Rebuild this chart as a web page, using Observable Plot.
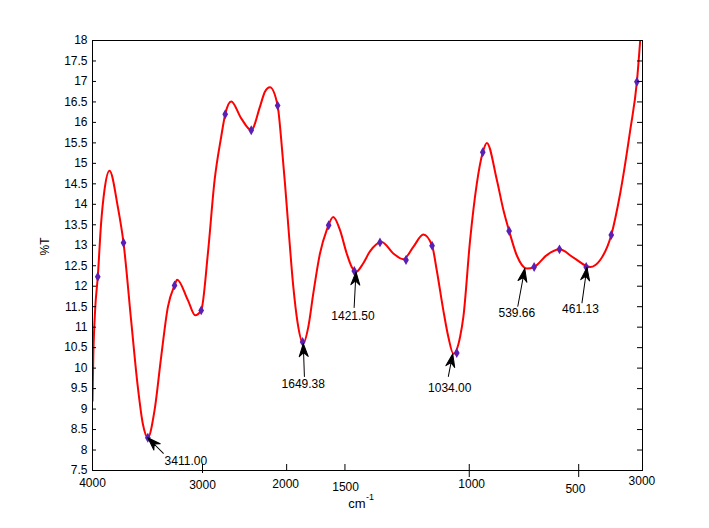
<!DOCTYPE html>
<html><head><meta charset="utf-8">
<script src="https://cdn.jsdelivr.net/npm/d3@7"></script>
<script src="https://cdn.jsdelivr.net/npm/@observablehq/plot@0.6"></script>
<style>body{margin:0;background:#fff;}</style>
</head><body><div id="chart"></div>
<script>
// x is position along the (irregular) wavenumber axis, 0 = left edge, 100 = right edge
const curveX = [0,0.15,0.47,0.96,1.56,2.18,3.09,4.60,5.64,7.02,8.24,9.15,10.06,11.28,12.48,13.70,14.92,15.39,17.34,18.67,19.76,20.98,22.20,23.40,24.13,25.22,27.04,28.86,30.44,31.35,32.26,33.66,34.3,35.0,35.7,36.5,37.3,38.32,39.23,40.14,41.36,42.58,43.78,45.00,46.22,47.13,47.91,49.18,50.45,52.58,54.69,56.51,58.33,60.15,61.74,62.59,63.79,64.70,65.61,66.83,67.43,68.65,69.87,70.96,71.69,73.51,74.71,75.75,77.15,78.97,80.30,82.61,84.90,87.45,90.49,92.31,94.32,95.95,97.77,98.98,99.58];
const curveT = [9.2,10.3,11.4,12.23,13.53,14.35,14.82,13.94,13.06,11.17,9.54,8.64,8.30,8.97,10.27,11.49,12.02,12.16,11.66,11.29,11.41,12.8,14.59,15.65,16.2,16.51,16.1,15.81,16.38,16.75,16.86,16.41,15.6,14.5,13.3,12.0,11.1,10.6,11.0,11.82,12.8,13.37,13.69,13.37,12.8,12.47,12.35,12.55,12.85,13.08,12.8,12.66,12.96,13.26,12.99,12.39,11.41,10.76,10.35,10.76,11.25,13.12,14.5,15.27,15.50,14.6,13.86,13.35,12.75,12.43,12.47,12.76,12.90,12.70,12.47,12.64,13.25,14.27,15.81,16.99,18.0];
const markX = [0.96,5.64,10.06,14.92,19.76,24.13,28.86,33.66,38.2,42.94,47.6,52.27,57.0,61.74,66.23,70.96,75.75,80.30,84.90,89.76,94.32,98.98];
const markT = [12.23,13.06,8.30,12.02,11.41,16.2,15.81,16.41,10.64,13.49,12.37,13.07,12.64,12.99,10.37,15.27,13.35,12.47,12.90,12.47,13.25,16.99];
const peakLabels = ["3411.00","1649.38","1421.50","1034.00","539.66","461.13"];
const peakX = [10.06,38.32,47.91,65.5,78.6,89.9];
const peakT = [8.30,10.60,12.35,10.35,12.43,12.46];
const xTickPos = [0,20,35.3,45.9,68.5,88.4,100];
const xTickLabels = ["4000","3000","2000","1500","1000","500","3000"];
const yTicks = d3.range(0,22).map(i => 7.5 + i*0.5);

// layout / style (pixels, degrees)
const arrowLen = [22,33,35.7,23.1,38.3,35.8];
const arrowRot = [135,178,183,191,190.5,188];
const labelDx = [38,0,-3,-3,-8,-6.5];
const labelDy = [23,41,44,34,45,42];
const xLabelDx = [0,0,-1,0.6,2.4,-3.3,-0.6];
const xLabelDy = [12.5,15,13.5,17,13.8,18.5,10.5];

const font = "Liberation Sans, Arial, sans-serif";
const curveData = curveX.map((x,i) => ({x, t: curveT[i]}));
const markData = markX.map((x,i) => ({x, t: markT[i]}));

const dartArrow = {
  draw(context, l) {
    context.moveTo(0, 0);
    context.lineTo(0, -l);
    context.moveTo(0, 0);
    context.lineTo(-4.5, -13);
    context.lineTo(0, -9);
    context.lineTo(4.5, -13);
    context.closePath();
  }
};

const marks = [
  Plot.line(curveData, {x:"x", y:"t", stroke:"#ff0000", strokeWidth:2, curve:"monotone-x", clip:true}),
  Plot.dot(markData, {x:"x", y:"t", symbol:"diamond", r:3, fill:"#5a1fb3", stroke:"none"}),
  Plot.frame({stroke:"black"}),
  // y axis labels and ticks
  Plot.axisY({anchor:"left", ticks:yTicks, tickSize:0, tickPadding:5, tickFormat:d => String(d), label:null, fontSize:12, fill:"black"}),
  Plot.axisY({anchor:"left", ticks:yTicks, tickSize:-4, fill:"none", label:null}),
  Plot.axisY({anchor:"right", ticks:yTicks, tickSize:-6, fill:"none", label:null}),
  // x ticks
  Plot.axisX({anchor:"bottom", ticks:xTickPos.slice(1,-1), tickSize:-6, fill:"none", label:null}),
  Plot.axisX({anchor:"bottom", ticks:[xTickPos[1]], tickSize:3, fill:"none", label:null}),
  Plot.axisX({anchor:"bottom", ticks:[xTickPos[4], xTickPos[5]], tickSize:7, fill:"none", label:null}),
  // x tick labels
  ...xTickPos.map((p,i) => Plot.text([p], {x:d=>d, frameAnchor:"bottom", text:() => xTickLabels[i], dx:xLabelDx[i], dy:xLabelDy[i], lineAnchor:"middle", fontSize:12, fill:"black"})),
  // axis titles
  Plot.text(["%T"], {frameAnchor:"left", text:d=>d, rotate:-90, dx:-47, lineAnchor:"middle", fontSize:12, fill:"black"}),
  Plot.text(["cm"], {frameAnchor:"bottom", text:d=>d, textAnchor:"end", dx:-2, dy:33, lineAnchor:"middle", fontSize:13, fill:"black"}),
  Plot.text(["-1"], {frameAnchor:"bottom", text:d=>d, textAnchor:"start", dx:-1.5, dy:27, lineAnchor:"middle", fontSize:9, fill:"black"}),
  // peak annotations
  ...peakLabels.map((lab,i) => Plot.vector([i], {x:()=>peakX[i], y:()=>peakT[i], length:arrowLen[i], rotate:arrowRot[i], anchor:"start", shape:dartArrow, stroke:"black", fill:"black", strokeWidth:1})),
  ...peakLabels.map((lab,i) => Plot.text([lab], {x:()=>peakX[i], y:()=>peakT[i], text:d=>d, dx:labelDx[i], dy:labelDy[i], lineAnchor:"middle", fontSize:12, fill:"black"}))
];

const chart = Plot.plot({
  width:709, height:528,
  marginLeft:92, marginRight:67, marginTop:40, marginBottom:58,
  style:{fontFamily:font, fontSize:"12px", background:"#fff", color:"black"},
  x:{domain:[0,100], axis:null},
  y:{domain:[7.5,18], axis:null},
  marks
});
document.getElementById("chart").appendChild(chart);
</script>
</body></html>
